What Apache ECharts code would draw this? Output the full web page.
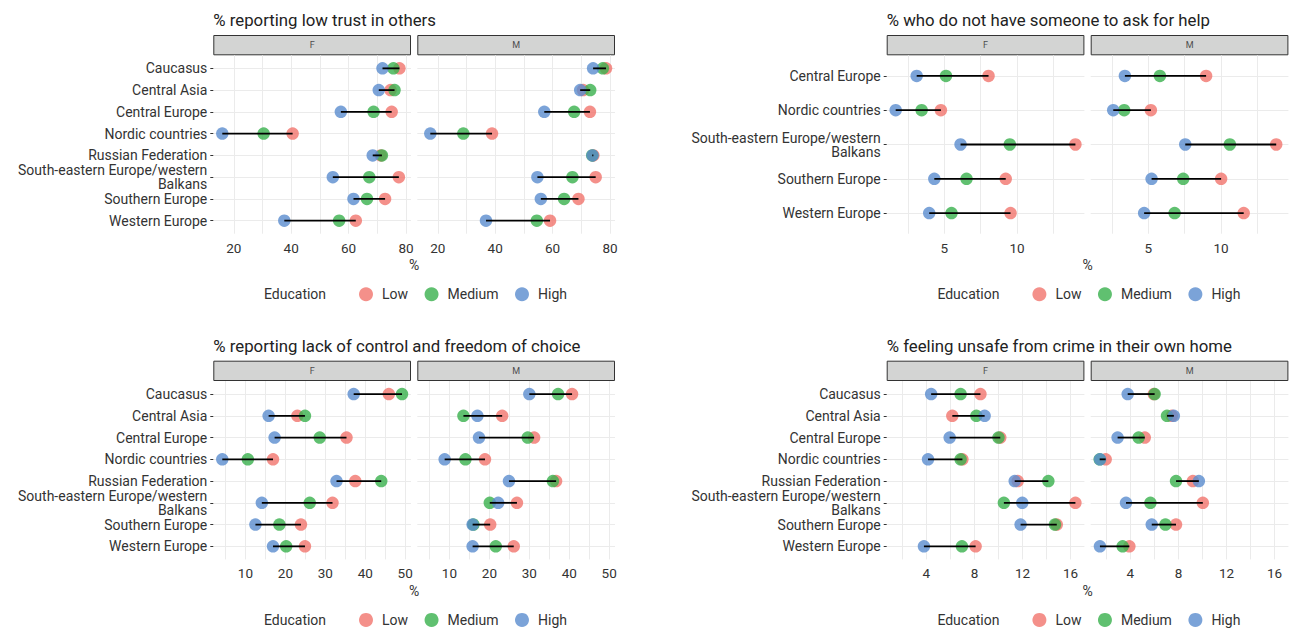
<!DOCTYPE html>
<html><head><meta charset="utf-8">
<script src="https://cdn.jsdelivr.net/npm/echarts@6/dist/echarts.min.js"></script>
<style>html,body{margin:0;padding:0;background:#fff}#c{width:1290px;height:630px}</style>
</head><body><div id="c"></div>
<script>
// ---------- DATA ----------
const regions8 = ['Caucasus','Central Asia','Central Europe','Nordic countries','Russian Federation','South-eastern Europe/western Balkans','Southern Europe','Western Europe'];
const regions5 = ['Central Europe','Nordic countries','South-eastern Europe/western Balkans','Southern Europe','Western Europe'];
const levels = ['Low','Medium','High'];
const facets = ['F','M'];

// % reporting low trust in others
const trustLowF  = [77.7, 74.6, 75.0, 40.5, 71.2, 77.5, 72.7, 62.5];
const trustMedF  = [75.6, 76.0, 68.7, 30.4, 71.6, 67.2, 66.4, 56.7];
const trustHighF = [71.8, 70.5, 57.3, 16.0, 68.4, 54.5, 61.7, 37.6];
const trustLowM  = [78.6, 70.6, 73.0, 38.9, 74.2, 75.0, 69.0, 59.1];
const trustMedM  = [77.5, 73.1, 67.5, 28.9, 73.8, 66.9, 64.0, 54.5];
const trustHighM = [74.1, 69.6, 57.1, 17.4, 73.9, 54.7, 55.9, 36.8];
const trustTicks = [20, 40, 60, 80];
const trustGridVals = [20, 30, 40, 50, 60, 70, 80];

// % who do not have someone to ask for help
const helpLowF  = [8.04, 4.77, 14.0, 9.22, 9.55];
const helpMedF  = [5.12, 3.45, 9.5, 6.53, 5.5];
const helpHighF = [3.11, 1.67, 6.12, 4.32, 3.97];
const helpLowM  = [8.97, 5.18, 13.78, 10.0, 11.55];
const helpMedM  = [5.8, 3.35, 10.6, 7.4, 6.81];
const helpHighM = [3.4, 2.6, 7.54, 5.23, 4.72];
const helpTicks = [5, 10];
const helpGridVals = [2.5, 5, 7.5, 10, 12.5];

// % reporting lack of control and freedom of choice
const ctrlLowF  = [45.9, 23.0, 35.3, 16.9, 37.5, 31.8, 23.9, 24.9];
const ctrlMedF  = [49.2, 24.9, 28.6, 10.6, 44.0, 26.1, 18.5, 20.2];
const ctrlHighF = [37.1, 15.8, 17.3, 4.2, 32.8, 14.1, 12.5, 16.9];
const ctrlLowM  = [40.7, 23.2, 31.2, 18.9, 36.7, 26.9, 20.2, 26.1];
const ctrlMedM  = [37.2, 13.5, 29.6, 14.0, 35.9, 20.1, 16.0, 21.6];
const ctrlHighM = [30.0, 17.0, 17.4, 8.8, 24.9, 22.2, 15.8, 15.8];
const ctrlTicks = [10, 20, 30, 40, 50];
const ctrlGridVals = [5, 10, 15, 20, 25, 30, 35, 40, 45, 50];

// % feeling unsafe from crime in their own home
const unsafeLowF  = [8.5, 6.16, 10.15, 7.0, 11.6, 16.4, 14.85, 8.1];
const unsafeMedF  = [6.85, 8.16, 10.0, 6.85, 14.15, 10.45, 14.7, 6.96];
const unsafeHighF = [4.4, 8.85, 5.94, 4.14, 11.35, 11.98, 11.84, 3.8];
const unsafeLowM  = [5.95, 7.45, 5.2, 1.95, 9.2, 10.03, 7.8, 3.92];
const unsafeMedM  = [6.02, 7.05, 4.69, 1.45, 7.8, 5.67, 6.92, 3.36];
const unsafeHighM = [3.78, 7.62, 2.94, 1.48, 9.7, 3.64, 5.78, 1.47];
const unsafeTicks = [4, 8, 12, 16];
const unsafeGridVals = [2, 4, 6, 8, 10, 12, 14, 16];

// ---------- PANELS ----------
const panels = [
  { title: '% reporting low trust in others', cats: regions8,
    F: [trustLowF, trustMedF, trustHighF], M: [trustLowM, trustMedM, trustHighM],
    ticks: trustTicks, gridVals: trustGridVals, col: 0, row: 0 },
  { title: '% who do not have someone to ask for help', cats: regions5,
    F: [helpLowF, helpMedF, helpHighF], M: [helpLowM, helpMedM, helpHighM],
    ticks: helpTicks, gridVals: helpGridVals, col: 1, row: 0 },
  { title: '% reporting lack of control and freedom of choice', cats: regions8,
    F: [ctrlLowF, ctrlMedF, ctrlHighF], M: [ctrlLowM, ctrlMedM, ctrlHighM],
    ticks: ctrlTicks, gridVals: ctrlGridVals, col: 0, row: 1 },
  { title: '% feeling unsafe from crime in their own home', cats: regions8,
    F: [unsafeLowF, unsafeMedF, unsafeHighF], M: [unsafeLowM, unsafeMedM, unsafeHighM],
    ticks: unsafeTicks, gridVals: unsafeGridVals, col: 1, row: 1 }
];

// ---------- LAYOUT ----------
const FONT = 'Roboto';
const colors = ['#F1746D', '#38B04C', '#5A8CCE'];
const colLeft = [213.3, 886.7];
const facetW = 197.7, facetGap = 6.3;
const rowStripTop = [35, 360.7];
const stripH = 20.3;
const plotH = 178.4;

const grids = [], xAxes = [], yAxes = [], series = [], graphics = [], legends = [];

panels.forEach((p, pi) => {
  const all = [].concat(...p.F, ...p.M);
  const lo = Math.min(...all), hi = Math.max(...all);
  const pad = (hi - lo) * 0.05;
  const xmin = lo - pad, xmax = hi + pad;
  const n = p.cats.length;
  const idx = p.cats.map((c, i) => i);
  const stripTop = rowStripTop[p.row];
  const plotTop = stripTop + stripH;
  const left0 = colLeft[p.col];

  // title
  graphics.push({ type: 'text', x: left0, y: stripTop - 15,
    style: { text: p.title, fontSize: 16.8, fontFamily: FONT, fill: '#222', align: 'left', verticalAlign: 'middle' } });
  // x-axis name
  graphics.push({ type: 'text', x: left0 + facetW + facetGap / 2, y: plotTop + plotH + 31.5,
    style: { text: '%', fontSize: 14, fontFamily: FONT, fill: '#333', align: 'center', verticalAlign: 'middle' } });
  // legend title
  const legY = plotTop + plotH + 60.5;
  graphics.push({ type: 'text', x: left0 + 50.7, y: legY,
    style: { text: 'Education', fontSize: 14, fontFamily: FONT, fill: '#333', align: 'left', verticalAlign: 'middle' } });
  legends.push({ left: left0 + 145.7, top: legY - 7, padding: 0, icon: 'circle', itemWidth: 14, itemHeight: 14,
    itemGap: 16.5, selectedMode: false, data: levels,
    textStyle: { fontSize: 14, fontFamily: FONT, color: '#333', padding: [0, 0, 0, 4] } });

  facets.forEach((f, fi) => {
    const g = pi * 2 + fi;
    const left = left0 + fi * (facetW + facetGap);
    // strip
    graphics.push({ type: 'rect', shape: { x: left + 0.5, y: stripTop + 0.5, width: facetW - 1, height: stripH - 1 },
      style: { fill: '#D3D4D3', stroke: '#333', lineWidth: 1 } });
    graphics.push({ type: 'text', x: left + facetW / 2, y: stripTop + stripH / 2,
      style: { text: f, fontSize: 9, fontFamily: FONT, fill: '#4D4D4D', align: 'center', verticalAlign: 'middle' } });

    grids.push({ left: left, top: plotTop, width: facetW, height: plotH });
    xAxes.push({ type: 'value', gridIndex: g, min: xmin, max: xmax,
      axisLine: { show: false },
      axisTick: { show: false, customValues: p.gridVals },
      axisLabel: { customValues: p.ticks, fontSize: 13.5, fontFamily: FONT, color: '#333', margin: 7 },
      splitLine: { show: true, lineStyle: { color: '#EBEBEB', width: 1 } } });
    yAxes.push({ type: 'value', gridIndex: g, inverse: true, min: -0.6, max: n - 0.4,
      axisLine: { show: false },
      axisTick: { show: fi === 0, length: 3, customValues: idx, lineStyle: { color: '#333' } },
      axisLabel: { show: fi === 0, customValues: idx, fontSize: 14, fontFamily: FONT, color: '#333', margin: 6,
        lineHeight: 14, align: 'right',
        formatter: v => (p.cats[Math.round(v)] || '').replace('western ', 'western\n') },
      splitLine: { show: true, lineStyle: { color: '#EBEBEB', width: 1 } } });

    const vals = p[f];
    vals.forEach((arr, li) => {
      series.push({ type: 'scatter', name: levels[li], xAxisIndex: g, yAxisIndex: g,
        data: arr.map((v, i) => [v, i]), symbolSize: 12.5, clip: false, z: 2,
        itemStyle: { color: colors[li], opacity: 0.8 }, emphasis: { disabled: true }, silent: true });
    });
    series.push({ type: 'custom', xAxisIndex: g, yAxisIndex: g, z: 5, silent: true, clip: false,
      encode: { x: [0, 1], y: 2 },
      data: p.cats.map((c, i) => {
        const v = vals.map(a => a[i]);
        return [Math.min(...v), Math.max(...v), i];
      }),
      renderItem: (params, api) => {
        const a = api.coord([api.value(0), api.value(2)]);
        const b = api.coord([api.value(1), api.value(2)]);
        return { type: 'line', shape: { x1: a[0], y1: a[1], x2: b[0], y2: b[1] },
          style: { stroke: '#000', lineWidth: 1.8 } };
      } });
  });
});

const chart = echarts.init(document.getElementById('c'), null, { renderer: 'svg', width: 1290, height: 630 });
chart.setOption({
  animation: false,
  backgroundColor: '#fff',
  grid: grids, xAxis: xAxes, yAxis: yAxes, series: series, legend: legends,
  graphic: { elements: graphics }
});
</script></body></html>
